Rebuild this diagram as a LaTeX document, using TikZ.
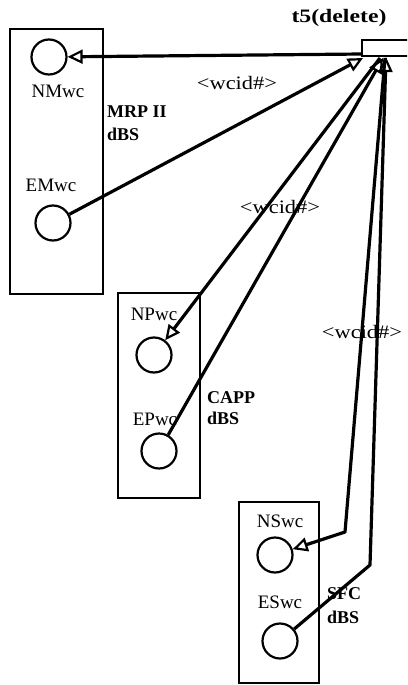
\documentclass[tikz,border=0pt]{standalone}
\usepackage{fontspec}
\setmainfont{Liberation Serif}
\usetikzlibrary{arrows.meta}
\tikzset{
  dbox/.style={draw, line width=2.6pt, inner sep=0pt},
  place/.style={circle, draw, line width=2.2pt, minimum size=35pt, inner sep=0pt},
  arc/.style={line width=3.2pt, line join=round},
  otip/.style={-{Triangle[open, length=15pt, width=14pt, line width=2.2pt]}},
  lbl/.style={font=\fontsize{19}{22}\selectfont, inner sep=0pt, anchor=base},
  blbl/.style={font=\fontsize{18}{21}\selectfont\bfseries, inner sep=0pt, anchor=base west}
}
\begin{document}
\begin{tikzpicture}[x=1pt,y=-1pt]
\useasboundingbox (0,0) rectangle (407,685);
\clip (0,0) rectangle (407,685);
% boxes
\node[dbox, minimum width=93pt, minimum height=265pt] (mrp) at (56.5,161.5) {};
\node[dbox, minimum width=82pt, minimum height=205pt] (capp) at (159,395.5) {};
\node[dbox, minimum width=80pt, minimum height=181pt] (sfc) at (279,592.5) {};
\node[dbox, minimum width=48pt, minimum height=16pt] (t5) at (386,48) {};
% places
\node[place] (NMwc) at (49,57) {};
\node[place] (EMwc) at (53,223) {};
\node[place] (NPwc) at (154,355) {};
\node[place] (EPwc) at (159,451) {};
\node[place] (NSwc) at (275,555) {};
\node[place] (ESwc) at (280,641) {};
% labels
\node[lbl] (lNMwc) at (58,97) {NMwc};
\node[lbl] (lEMwc) at (51,191) {EMwc};
\node[blbl] (lMRP) at (107,117) {MRP II};
\node[blbl] (lMRPd) at (107,140) {dBS};
\node[lbl, font=\fontsize{19}{22}\selectfont\bfseries] (lt5) at (339,23) {\scalebox{1.25}[1]{t5(delete)}};
\node[lbl] (w1) at (237,89) {\scalebox{1.18}[1]{<wcid\#>}};
\node[lbl] (w2) at (280,213) {\scalebox{1.18}[1]{<wcid\#>}};
\node[lbl] (w3) at (362,338) {\scalebox{1.18}[1]{<wcid\#>}};
\node[lbl] (lNPwc) at (154,320) {NPwc};
\node[lbl] (lEPwc) at (155,425) {EPwc};
\node[blbl] (lCAPP) at (207,403) {CAPP};
\node[blbl] (lCAPPd) at (207,424) {dBS};
\node[lbl] (lNSwc) at (280,527) {NSwc};
\node[lbl] (lESwc) at (280,608) {ESwc};
\node[blbl] (lSFC) at (327,599) {SFC};
\node[blbl] (lSFCd) at (327,623) {dBS};
% connection points at t5
\coordinate (a1) at (362,54);
\coordinate (a2) at (363,58);
\coordinate (a3) at (380,58);
\coordinate (a4) at (383,58);
\coordinate (a5) at (385,58);
\coordinate (a6) at (386,57);
\coordinate (b5) at (345,532);
\coordinate (b6) at (370,565);
% arcs
\draw[arc, otip] (a1) -- (NMwc);
\draw[arc, otip] (EMwc) -- (a2);
\draw[arc, otip] (a3) -- (NPwc);
\draw[arc, otip] (EPwc) -- (a4);
\draw[arc, otip] (a5) -- (b5) -- (NSwc);
\draw[arc, otip] (ESwc) -- (b6) -- (a6);
\end{tikzpicture}
\end{document}
